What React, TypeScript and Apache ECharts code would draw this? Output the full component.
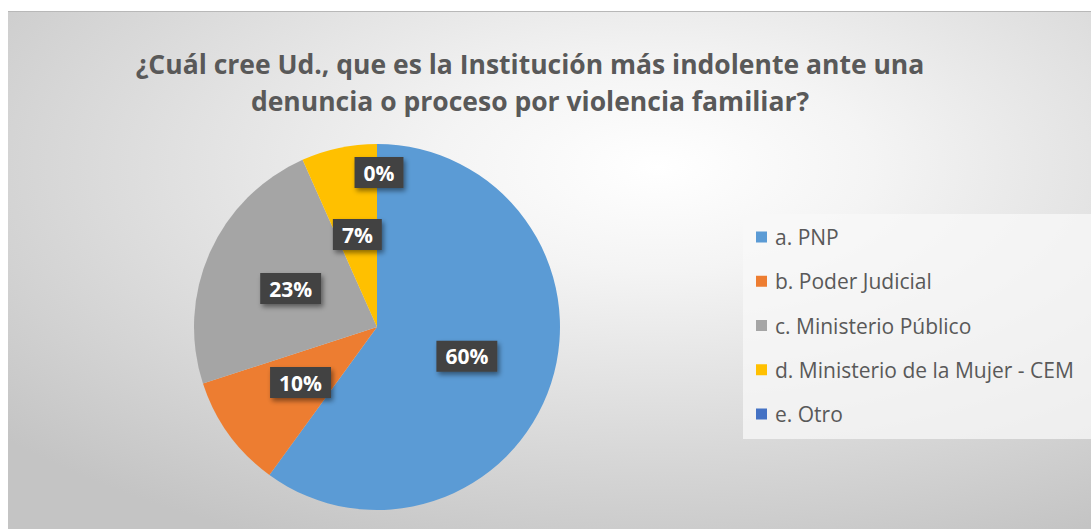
import React, { useEffect, useRef } from "react";
import * as echarts from "echarts";

const titleLines = [
  "¿Cuál cree Ud., que es la Institución más indolente ante una",
  "denuncia o proceso por violencia familiar?",
];
const categories = [
  "a. PNP",
  "b. Poder Judicial",
  "c. Ministerio Público",
  "d. Ministerio de la Mujer - CEM",
  "e. Otro",
];
const counts = [18, 3, 7, 2, 0];
const colors = ["#5b9bd5", "#ed7d31", "#a5a5a5", "#ffc000", "#4472c4"];

export default function App() {
  const ref = useRef<HTMLDivElement>(null);
  useEffect(() => {
    if (!ref.current) return;
    const chart = echarts.init(ref.current, undefined, { renderer: "svg" });
    const total = counts.reduce((a, b) => a + b, 0);
    chart.setOption({
      animation: false,
      backgroundColor: {
        type: "radial",
        x: 0.6,
        y: 0.3,
        r: 0.8,
        colorStops: [
          { offset: 0, color: "#ffffff" },
          { offset: 0.25, color: "#f4f4f4" },
          { offset: 1, color: "#c4c4c4" },
        ],
      },
      title: {
        text: titleLines.join("\n"),
        left: 517,
        top: 28,
        textAlign: "center",
        textStyle: {
          fontFamily: "Open Sans",
          fontWeight: "bold",
          fontSize: 26.5,
          lineHeight: 37,
          color: "#595959",
        },
      },
      legend: {
        orient: "vertical",
        left: 735,
        top: 202,
        padding: [12, 60, 14, 13],
        backgroundColor: "rgba(248,248,248,0.75)",
        icon: "rect",
        itemWidth: 11,
        itemHeight: 11,
        itemGap: 22.25,
        data: categories,
        textStyle: {
          fontFamily: "Open Sans",
          fontSize: 21,
          lineHeight: 22,
          color: "#595959",
          padding: [0, 0, 0, 3],
        },
      },
      series: [
        {
          type: "pie",
          center: [369, 315],
          radius: 183,
          startAngle: 90,
          clockwise: true,
          avoidLabelOverlap: false,
          color: colors,
          label: {
            show: true,
            position: "inside",
            formatter: (p: any) => Math.round((p.value / total) * 100) + "%",
            fontFamily: "Open Sans",
            fontWeight: "bold",
            fontSize: 21,
            color: "#ffffff",
            backgroundColor: "#424242",
            padding: [6, 9, 4, 9],
            shadowColor: "rgba(0,0,0,0.45)",
            shadowBlur: 5,
            shadowOffsetX: 2,
            shadowOffsetY: 3,
          },
          labelLine: { show: false },
          labelLayout: (p: any) => (p.dataIndex === 4 ? { dx: 2, dy: -60 } : {}),
          emphasis: { disabled: true },
          data: categories.map((name, i) => ({ name, value: counts[i] })),
        },
      ],
    });
    return () => chart.dispose();
  }, []);
  return (
    <div
      ref={ref}
      style={{
        position: "absolute",
        left: 8,
        top: 11,
        width: 1083,
        height: 518,
        borderTop: "1px solid #b8b8b8",
        boxSizing: "border-box",
      }}
    />
  );
}
